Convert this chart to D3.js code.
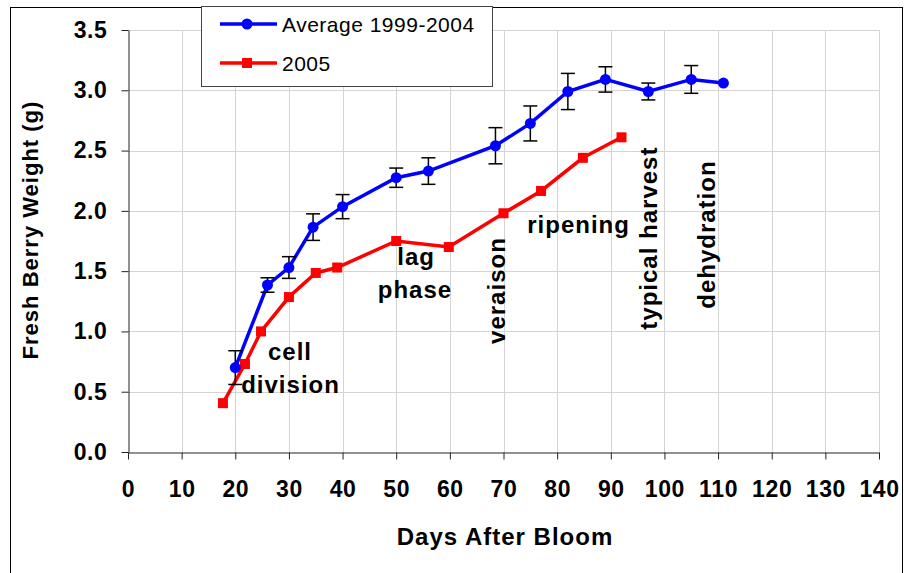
<!DOCTYPE html>
<html>
  <head>
    <meta charset="utf-8">
    <title>Fresh Berry Weight</title>
    <script src="https://cdnjs.cloudflare.com/ajax/libs/d3/7.8.5/d3.min.js"></script>
    <style>
      body { margin: 0; background: #fff; }
      text { font-family: "Liberation Sans", Arial, sans-serif; }
    </style>
  </head>
  <body>

    <script>
      // Average 1999-2004 (with error bars)
      var avgDays   = [20, 26, 30, 34.5, 40, 50, 56, 68.5, 75, 82, 89, 97, 105, 111];
      var avgWeight = [0.70, 1.385, 1.53, 1.865, 2.035, 2.275, 2.33, 2.54, 2.725, 2.99, 3.09, 2.99, 3.09, 3.06];
      var avgErr    = [0.14, 0.06, 0.09, 0.11, 0.10, 0.08, 0.11, 0.15, 0.145, 0.15, 0.105, 0.07, 0.115, 0];

      // 2005
      var days2005   = [17.7, 21.8, 24.8, 30, 35, 39, 50, 59.8, 70, 77, 84.8, 92];
      var weight2005 = [0.405, 0.73, 1.0, 1.285, 1.485, 1.53, 1.75, 1.70, 1.98, 2.165, 2.44, 2.61];

      var xTicks = [0, 10, 20, 30, 40, 50, 60, 70, 80, 90, 100, 110, 120, 130, 140];
      var yTicks = [0, 0.5, 1.0, 1.5, 2.0, 2.5, 3.0, 3.5];

      var seriesNames = ["Average 1999-2004", "2005"];

      // phase labels: [text, day, weight, rotated]
      var notes = [
        ["cell", 30.2, 0.76, false],
        ["division", 30.3, 0.49, false],
        ["lag", 53.7, 1.55, false],
        ["phase", 53.5, 1.277, false],
        ["ripening", 84.0, 1.816, false],
        ["veraison", 70.3, 1.339, true],
        ["typical harvest", 98.6, 1.774, true],
        ["dehydration", 109.4, 1.803, true]
      ];

      var W = 904, H = 573;
      var svg = d3.select("body").append("svg")
        .attr("width", W)
        .attr("height", H);

      var x = d3.scaleLinear().domain([0, 140]).range([128, 879]);
      var y = d3.scaleLinear().domain([0, 3.5]).range([452, 30]);

      // outer frame
      svg.append("rect")
        .attr("x", 10.5).attr("y", 7.5)
        .attr("width", 892).attr("height", 580)
        .attr("fill", "#fff").attr("stroke", "#000").attr("stroke-width", 1);

      // grid
      svg.append("g").selectAll("line").data(xTicks.slice(1)).enter().append("line")
        .attr("x1", function (d){ return Math.round(x(d)) + 0.5; })
        .attr("x2", function (d){ return Math.round(x(d)) + 0.5; })
        .attr("y1", y(3.5)).attr("y2", y(0))
        .attr("stroke", "#d4d4d4").attr("stroke-width", 1);

      svg.append("g").selectAll("line").data(yTicks.slice(1)).enter().append("line")
        .attr("y1", function (d){ return Math.round(y(d)) + 0.5; })
        .attr("y2", function (d){ return Math.round(y(d)) + 0.5; })
        .attr("x1", x(0)).attr("x2", x(140))
        .attr("stroke", "#d4d4d4").attr("stroke-width", 1);

      // axes
      var xAxis = svg.append("g")
        .attr("transform", "translate(0," + (y(0) + 0.5) + ")")
        .call(d3.axisBottom(x).tickValues(xTicks).tickSize(7).tickPadding(21).tickSizeOuter(0));
      var yAxis = svg.append("g")
        .attr("transform", "translate(" + (x(0) + 0.5) + ",0)")
        .call(d3.axisLeft(y).tickValues(yTicks).tickFormat(d3.format(".1f")).tickSize(7).tickPadding(14).tickSizeOuter(0));

      [xAxis, yAxis].forEach(function (g){
        g.selectAll("path, line").attr("stroke", "#222");
        g.selectAll("text")
          .attr("fill", "#000")
          .style("font-size", "23px")
          .style("font-weight", "bold")
          .style("letter-spacing", "0.6px")
          .style("font-family", "'Liberation Sans', Arial, sans-serif");
      });

      // axis titles
      svg.append("text")
        .attr("x", 505).attr("y", 545)
        .attr("text-anchor", "middle")
        .style("font-size", "24px").style("font-weight", "bold")
        .style("letter-spacing", "1px")
        .text("Days After Bloom");

      svg.append("text")
        .attr("transform", "translate(38,230) rotate(-90)")
        .attr("text-anchor", "middle")
        .style("font-size", "22px").style("font-weight", "bold")
        .style("letter-spacing", "1px")
        .text("Fresh Berry Weight (g)");

      var avg = avgDays.map(function (d, i){ return {d: d, v: avgWeight[i], e: avgErr[i]}; });
      var s05 = days2005.map(function (d, i){ return {d: d, v: weight2005[i]}; });

      var line = d3.line()
        .x(function (p){ return x(p.d); })
        .y(function (p){ return y(p.v); });

      // 2005 series
      svg.append("path").datum(s05)
        .attr("d", line)
        .attr("fill", "none").attr("stroke", "#ff0000").attr("stroke-width", 3.5);
      svg.append("g").selectAll("rect").data(s05).enter().append("rect")
        .attr("x", function (p){ return x(p.d) - 5; })
        .attr("y", function (p){ return y(p.v) - 5; })
        .attr("width", 10).attr("height", 10)
        .attr("fill", "#ff0000");

      // average series
      svg.append("path").datum(avg)
        .attr("d", line)
        .attr("fill", "none").attr("stroke", "#0000ff").attr("stroke-width", 3.5);

      var eb = svg.append("g").attr("stroke", "#000").attr("stroke-width", 1.5)
        .selectAll("g").data(avg.filter(function (p){ return p.e > 0; })).enter().append("g");
      eb.append("line")
        .attr("x1", function (p){ return x(p.d); }).attr("x2", function (p){ return x(p.d); })
        .attr("y1", function (p){ return y(p.v + p.e); }).attr("y2", function (p){ return y(p.v - p.e); });
      eb.append("line")
        .attr("x1", function (p){ return x(p.d) - 7; }).attr("x2", function (p){ return x(p.d) + 7; })
        .attr("y1", function (p){ return y(p.v + p.e); }).attr("y2", function (p){ return y(p.v + p.e); });
      eb.append("line")
        .attr("x1", function (p){ return x(p.d) - 7; }).attr("x2", function (p){ return x(p.d) + 7; })
        .attr("y1", function (p){ return y(p.v - p.e); }).attr("y2", function (p){ return y(p.v - p.e); });

      svg.append("g").selectAll("circle").data(avg).enter().append("circle")
        .attr("cx", function (p){ return x(p.d); })
        .attr("cy", function (p){ return y(p.v); })
        .attr("r", 5.5)
        .attr("fill", "#0000ff");

      // phase labels
      svg.append("g").selectAll("text").data(notes).enter().append("text")
        .attr("transform", function (n){
          return "translate(" + x(n[1]) + "," + y(n[2]) + ")" + (n[3] ? " rotate(-90)" : "");
        })
        .attr("text-anchor", "middle")
        .style("font-size", "24px").style("font-weight", "bold")
        .style("letter-spacing", "1px")
        .text(function (n){ return n[0]; });

      // legend
      var lg = svg.append("g");
      lg.append("rect")
        .attr("x", 201.5).attr("y", 6.5).attr("width", 291).attr("height", 80)
        .attr("fill", "#fff").attr("stroke", "#444").attr("stroke-width", 1);
      var colors = ["#0000ff", "#ff0000"];
      seriesNames.forEach(function (name, i){
        var cy = 24 + i * 39;
        lg.append("line")
          .attr("x1", 220).attr("x2", 277).attr("y1", cy).attr("y2", cy)
          .attr("stroke", colors[i]).attr("stroke-width", 3.5);
        if (i === 0) {
          lg.append("circle").attr("cx", 247).attr("cy", cy).attr("r", 5.5).attr("fill", colors[i]);
        } else {
          lg.append("rect").attr("x", 242).attr("y", cy - 5).attr("width", 10).attr("height", 10).attr("fill", colors[i]);
        }
        lg.append("text")
          .attr("x", 282).attr("y", cy + 8)
          .style("font-size", "21px")
          .style("letter-spacing", "0.5px")
          .text(name);
      });
    </script>

  </body>
</html>
